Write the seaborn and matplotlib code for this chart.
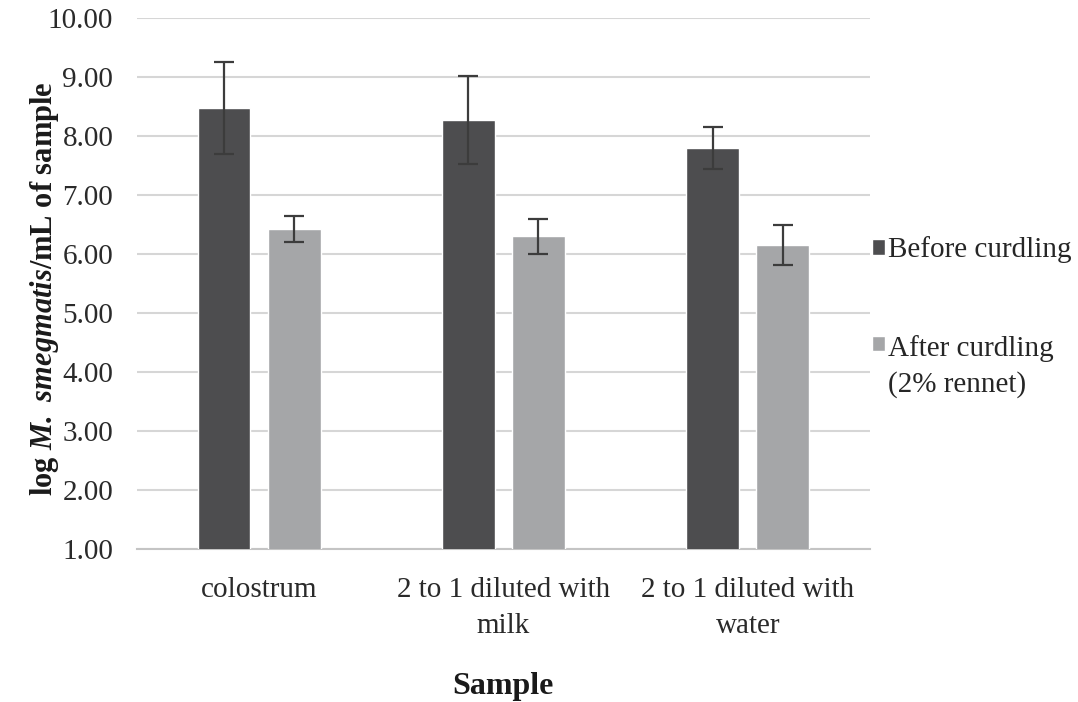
import pandas as pd
import numpy as np
import seaborn as sns
import matplotlib.pyplot as plt
from matplotlib.patches import Rectangle
from matplotlib.legend_handler import HandlerPatch

samples = ["colostrum", "2 to 1 diluted with\nmilk", "2 to 1 diluted with\nwater"]
treatments = ["Before curdling", "After curdling\n(2% rennet)"]
before = [8.47, 8.27, 7.80]
after = [6.42, 6.30, 6.15]
before_err = [0.78, 0.75, 0.35]
after_err = [0.22, 0.30, 0.34]

df = pd.DataFrame({
    "Sample": samples * 2,
    "Treatment": [treatments[0]] * 3 + [treatments[1]] * 3,
    "value": before + after,
})

sns.set_style("white")
plt.rcParams["font.family"] = ["Liberation Serif", "DejaVu Serif"]
plt.rcParams["mathtext.fontset"] = "custom"
plt.rcParams["mathtext.bf"] = "Liberation Serif:italic:bold"
plt.rcParams["mathtext.rm"] = "Liberation Serif:bold"

fig = plt.figure(figsize=(10.78, 7.02), dpi=100)
ax = fig.add_axes([0.127, 0.218, 0.68, 0.756])

palette = {treatments[0]: "#4d4d4f", treatments[1]: "#a5a6a8"}
sns.barplot(data=df, x="Sample", y="value", hue="Treatment", palette=palette,
            width=0.574, gap=0.245, errorbar=None, ax=ax, saturation=1, zorder=3)

# error bars at the bar centres
for bars, errs in zip(ax.containers, [before_err, after_err]):
    for patch, e in zip(bars, errs):
        xc = patch.get_x() + patch.get_width() / 2
        ax.errorbar(xc, patch.get_height(), yerr=e, color="#3c3c3c", lw=1.6,
                    capsize=7, capthick=1.6, zorder=4)

ax.set_xlim(-0.5, 2.5)
ax.set_ylim(1, 10)
ticks = np.arange(1, 10.01, 1)
ax.set_yticks(ticks)
ax.set_yticklabels([f"{v:.2f}" for v in ticks])
ax.yaxis.grid(True, color="#d6d6d6", lw=1.5, zorder=0)
ax.set_axisbelow(True)
for s in ["top", "right", "left"]:
    ax.spines[s].set_visible(False)
ax.spines["bottom"].set_color("#c4c4c4")
ax.spines["bottom"].set_linewidth(1.5)
ax.tick_params(axis="y", length=0, labelsize=21, colors="#2a2a2a", pad=17)
ax.tick_params(axis="x", length=0, labelsize=21, colors="#2a2a2a", pad=20)
for t in ax.get_xticklabels():
    t.set_linespacing(1.5)

ax.set_xlabel("Sample", fontsize=23, fontweight="bold", labelpad=24, color="#1a1a1a")
ax.set_ylabel(r"log $\mathbf{M.}$ $\mathbf{smegmatis}$/mL of sample", fontsize=22,
              fontweight="bold", color="#1a1a1a")
ax.yaxis.set_label_coords(-0.104, 0.49)


def top_line(legend, orig_handle, xdescent, ydescent, width, height, fontsize):
    # put the square next to the first line of a two-line label
    return Rectangle((-xdescent, -ydescent + 0.78 * fontsize), width, height)


handles, labels = ax.get_legend_handles_labels()
leg = ax.legend(handles, labels, loc="center left", bbox_to_anchor=(0.809, 0.548),
                bbox_transform=fig.transFigure, frameon=False, fontsize=21,
                handlelength=0.45, handleheight=0.45, handletextpad=0.1,
                labelspacing=2.45, borderpad=0, borderaxespad=0,
                handler_map={handles[1]: HandlerPatch(patch_func=top_line)})
for t in leg.get_texts():
    t.set_linespacing(1.45)

fig.savefig("out.png", dpi=100)
